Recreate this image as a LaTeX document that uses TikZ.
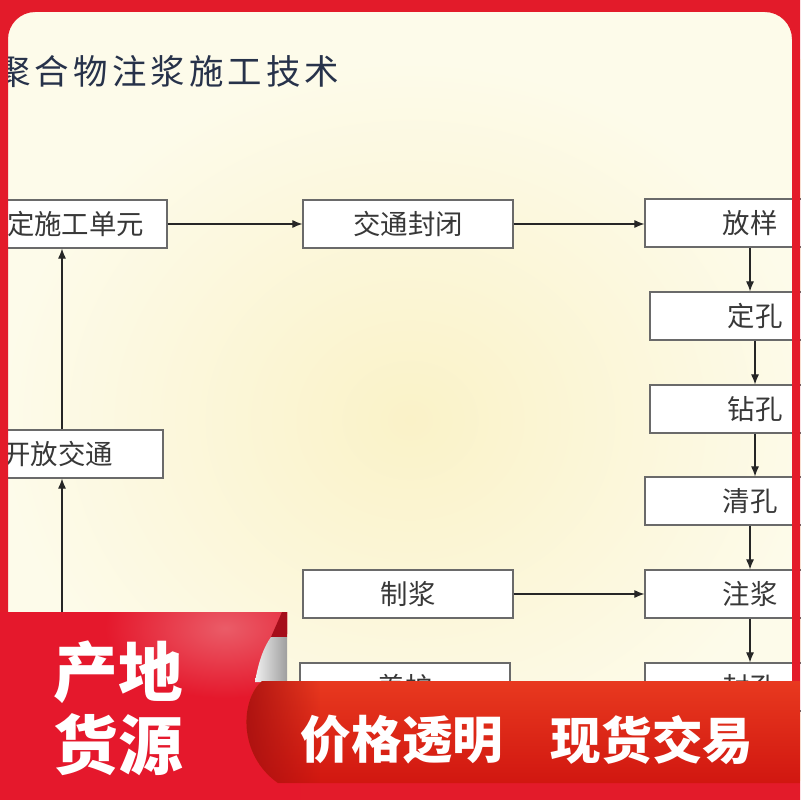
\documentclass[tikz,border=0pt]{standalone}
\usepackage{fontspec}
\usepackage{xcolor}
\newfontfamily\cjk{Noto Sans CJK SC}
\newfontfamily\cjktitle[LetterSpace=12]{Noto Sans CJK SC}
\usetikzlibrary{positioning,arrows.meta,calc,fadings}

\definecolor{framered}{HTML}{E31B2A}
\definecolor{cream}{HTML}{FDFBEA}
\definecolor{creamy}{HTML}{FAF2C8}
\definecolor{boxline}{HTML}{6A6A6A}
\definecolor{txtgray}{HTML}{383838}
\definecolor{titleblue}{HTML}{27324A}
\definecolor{bannerred}{HTML}{E5182C}
\definecolor{bannerpink}{HTML}{EA5C68}
\definecolor{bandtop}{HTML}{E8391F}
\definecolor{bandbot}{HTML}{D11710}
\definecolor{folddark}{HTML}{A50E1A}
\definecolor{edgedark}{HTML}{A81010}
\tikzfading[name=fadeedge, left color=transparent!0, right color=transparent!100]

\begin{document}
\begin{tikzpicture}[x=0.025cm, y=-0.025cm, >={Latex[length=2.5mm,width=2mm]},
  stepbox/.style={draw=boxline, fill=white, line width=0.8pt, minimum width=5.25cm, minimum height=1.2cm,
    inner sep=0pt, text=txtgray, font=\cjk\fontsize{19.5}{21}\selectfont},
  flow/.style={->, draw=black!85, line width=0.8pt},
  bannertxt/.style={text=white, inner sep=0pt, font=\cjk\bfseries}]
\useasboundingbox (0,0) rectangle (800,800);
% paper background
\fill[cream] (0,0) rectangle (800,800);
\shade[shading=radial, inner color=creamy, outer color=cream] (0,60) rectangle (820,780);
\node[anchor=west, inner sep=0pt, text=titleblue, font=\cjktitle\fontsize{24.5}{26}\selectfont] (title) at (-4,72) {聚合物注浆施工技术};
% process steps (left column / middle column / right column)
\node[stepbox] (qd) at (62,224) {\phantom{确}定施工单元};
\node[stepbox] (kf) at (58,454) {开放交通};
\node[stepbox] (jt) at (408,224) {交通封闭};
\node[stepbox] (zhj) at (408,594) {制浆};
\node[stepbox] (yh) at (405,687) {养护};
\node[stepbox] (fy) at (750,223) {放样};
\node[stepbox] (dk) at (755,316) {定孔};
\node[stepbox] (zk) at (755,409) {钻孔};
\node[stepbox] (qk) at (750,501) {清孔};
\node[stepbox] (zj) at (750,594) {注浆};
\node[stepbox] (fk) at (750,687) {封孔};
\foreach \a/\b in {fy/dk,dk/zk,zk/qk,qk/zj,zj/fk}
  \draw[flow] (\a.south) -- (\a.south |- \b.north);
\draw[flow] (qd.east) -- (jt.west);
\draw[flow] (jt.east) -- (jt.east -| fy.west);
\draw[flow] (zhj.east) -- (zj.west);
\draw[flow] (qd.south |- kf.north) -- (qd.south);
\draw[flow] (yh.west) -| ($(kf.south)+(4,0)$);
% red frame
\fill[framered, even odd rule] (0,0) rectangle (800,800) [rounded corners=0.68cm] (8,12) rectangle (792,783);
% left banner with fold and curl
\fill[bannerred] (0,612) -- (287,612) -- (287,634) .. controls (272,645) and (259,662) .. (255,682) -- (300,682) -- (300,800) -- (0,800) -- cycle;
\begin{scope}
  \clip (0,612) -- (287,612) -- (287,634) .. controls (272,645) and (259,662) .. (255,682) -- (300,682) -- (300,800) -- (0,800) -- cycle;
  \shade[inner color=bannerpink, outer color=bannerred] (225,628) ellipse (120 and 70);
\end{scope}
\fill[folddark] (282,612) -- (287,612) -- (287,637) -- (271,637) -- cycle;
\shade[left color=black!6, right color=black!38] (271,637) -- (287,637) -- (287,682) -- (255,682) .. controls (258,664) and (263,648) .. (271,637);
% bottom banner
\shade[top color=bandtop, bottom color=bandbot] (800,681) -- (262,681) .. controls (240,700) and (238,755) .. (278,783) -- (800,783) -- cycle;
\begin{scope}
  \clip (800,681) -- (262,681) .. controls (240,700) and (238,755) .. (278,783) -- (800,783) -- cycle;
  \fill[edgedark, path fading=fadeedge] (238,681) rectangle (320,783);
\end{scope}
\node[bannertxt, font=\cjk\bfseries\fontsize{46}{48}\selectfont] (cd) at (118,672) {产地};
\node[bannertxt, font=\cjk\bfseries\fontsize{46}{48}\selectfont] (hy) at (118,745) {货源};
\node[bannertxt, font=\cjk\bfseries\fontsize{36}{38}\selectfont] (jg) at (402,740) {价格透明};
\node[bannertxt, font=\cjk\bfseries\fontsize{36}{38}\selectfont] (xh) at (652,740) {现货交易};
\end{tikzpicture}
\end{document}
